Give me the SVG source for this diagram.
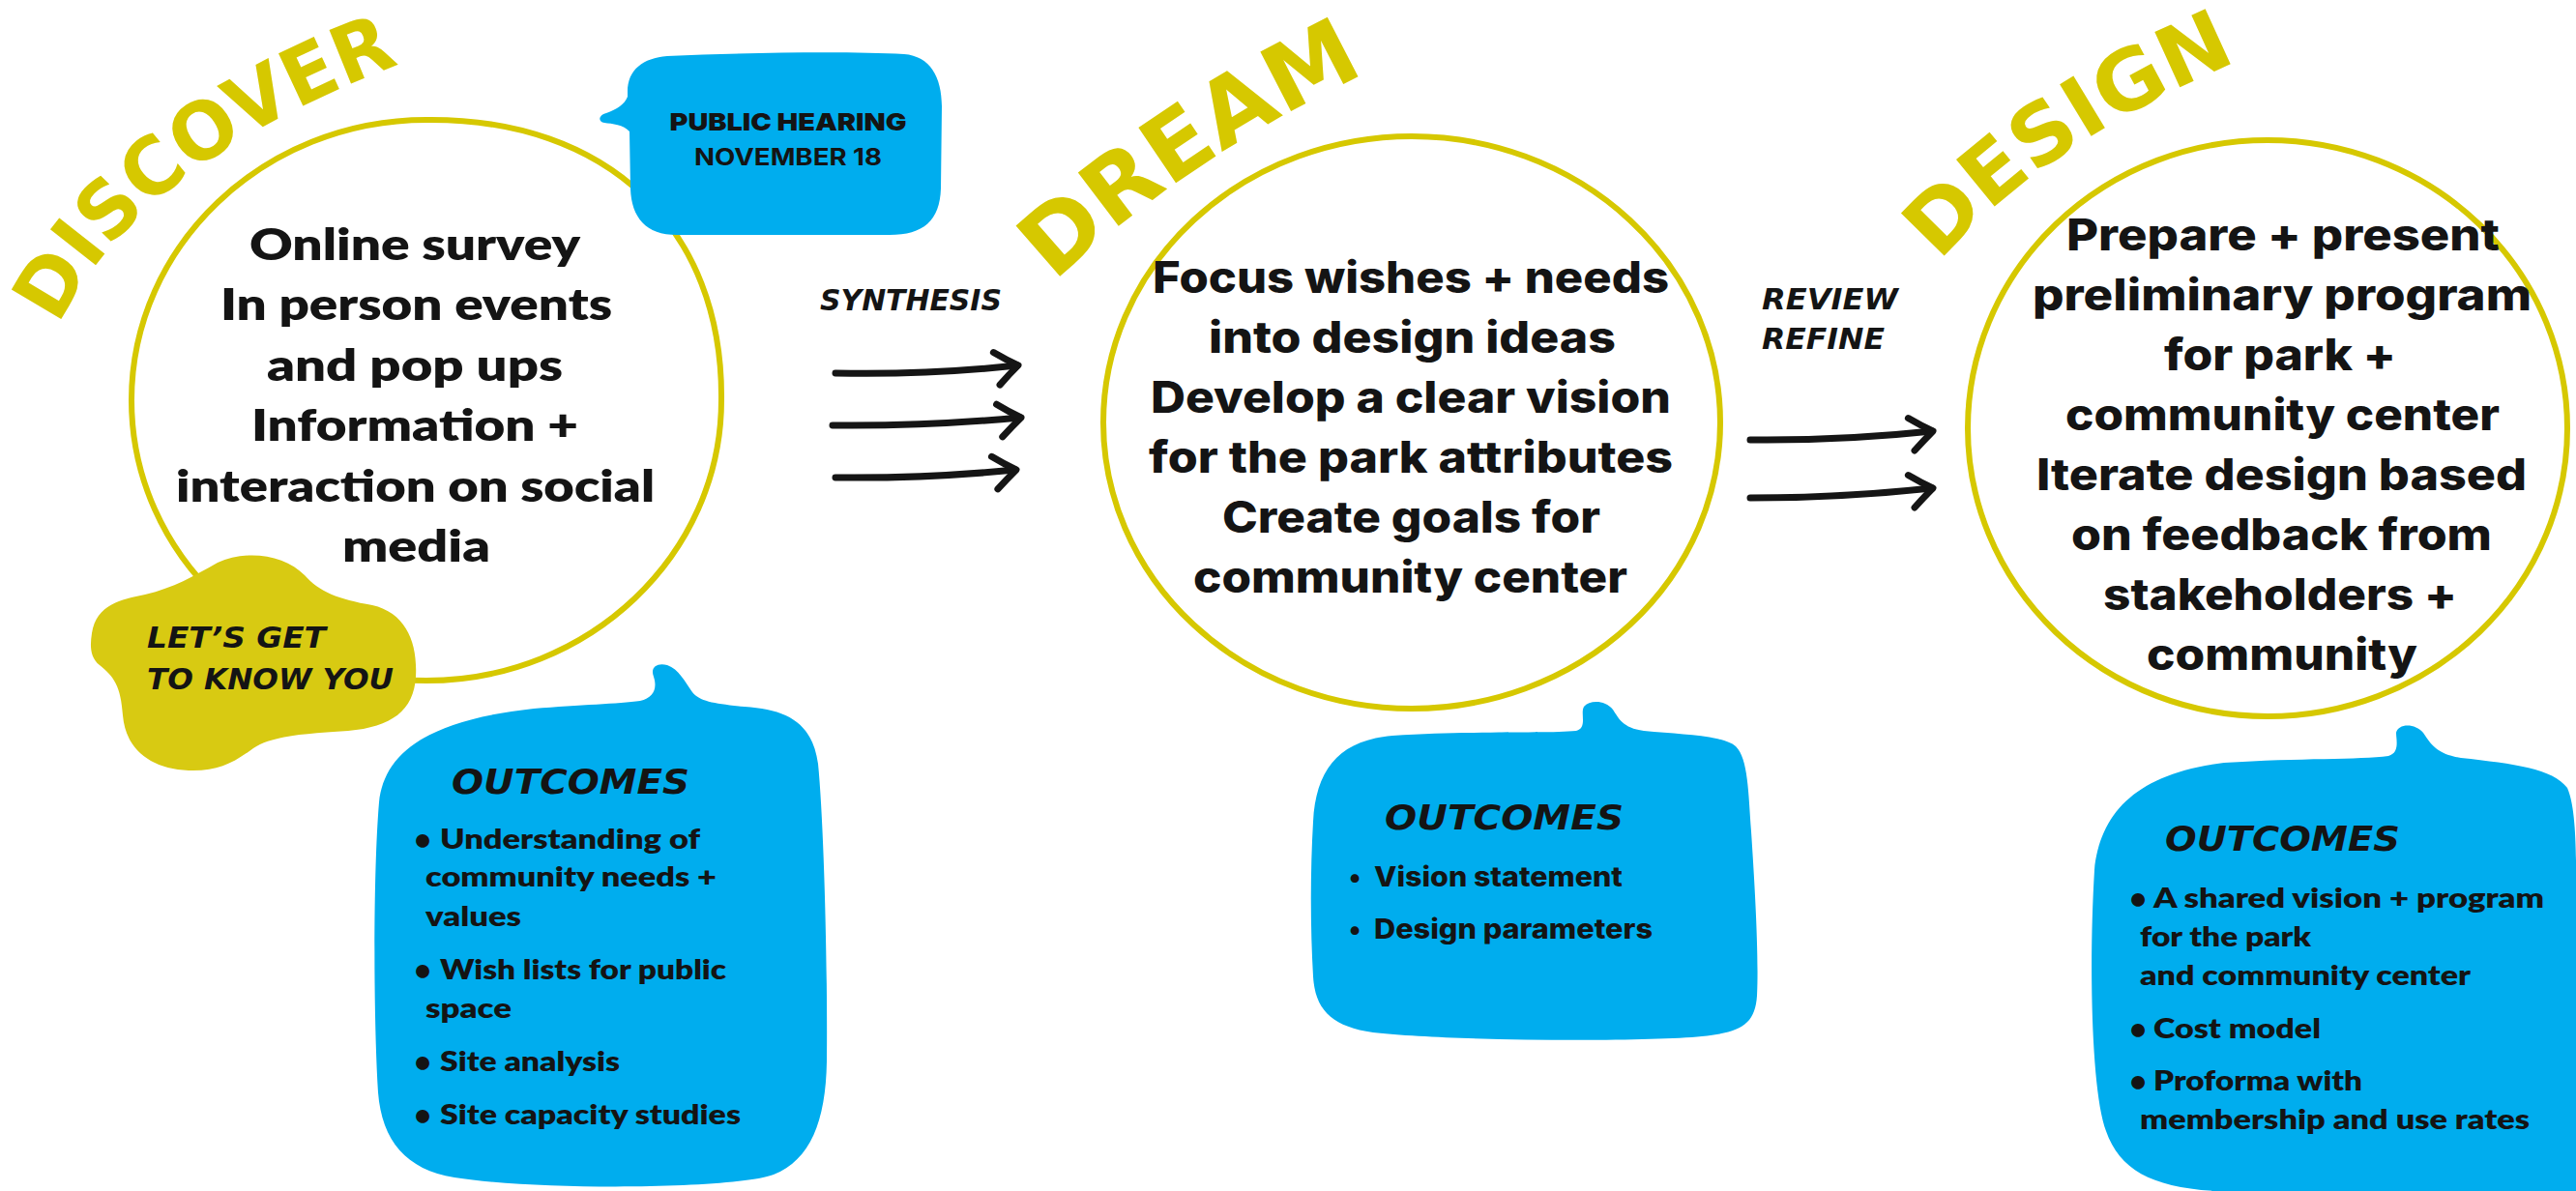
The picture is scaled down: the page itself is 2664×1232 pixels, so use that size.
<svg xmlns="http://www.w3.org/2000/svg" width="2664" height="1232" viewBox="0 0 2664 1232">
  <style>
    .ring { fill: none; stroke: #d6c800; stroke-width: 6; }
    .phase { font-family: "DejaVu Sans", sans-serif; font-weight: bold; fill: #d6c800; }
    .hand { font-family: "DejaVu Sans", sans-serif; font-weight: bold; font-style: oblique; fill: #141414; }
    .body-a { font-family: "Lato", "Liberation Sans", sans-serif; font-weight: 800; font-size: 45px; fill: #141414; }
    .body-b { font-family: "Inter", "Liberation Sans", sans-serif; font-weight: 800; font-size: 45px; fill: #141414; }
    .list { font-family: "Lato", "Liberation Sans", sans-serif; font-weight: 800; font-size: 28px; fill: #141414; }
    .list-b { font-family: "Inter", "Liberation Sans", sans-serif; font-weight: 800; font-size: 28px; fill: #141414; }
    .bubble { fill: #00adee; }
    .blob { fill: #d8ca12; }
    .arrow { fill: none; stroke: #151515; stroke-width: 7; stroke-linecap: round; }
  </style>
  <defs>
    <marker id="chev" markerUnits="userSpaceOnUse" markerWidth="60" markerHeight="60" refX="0" refY="0" orient="auto" overflow="visible">
      <path d="M -23,-16 Q -11,-7 1,0 Q -9,8 -20,18" fill="none" stroke="#151515" stroke-width="7" stroke-linecap="round" stroke-linejoin="round"/>
    </marker>
    <path id="arc-discover" d="M 61,337 Q 140,170 412,67"/>
    <path id="arc-dream" d="M 1090,292 Q 1225,165 1412,76"/>
    <path id="arc-design" d="M 2006,271 Q 2110,150 2313,64"/>
  </defs>

  <rect width="2664" height="1232" fill="#ffffff"/>

  <!-- Phase 1: Discover -->
  <g id="discover">
    <path class="ring" d="M 441,124 C 628,122 748,236 746,414 C 746,574 609,704 441,704 C 273,704 136,574 136,414 C 136,254 273,124 441,124 Z"/>
    <text class="phase" font-size="82"><textPath href="#arc-discover" textLength="455" lengthAdjust="spacingAndGlyphs">DISCOVER</textPath></text>
    <text class="body-a" x="258" y="269" textLength="342" lengthAdjust="spacingAndGlyphs">Online survey</text>
    <text class="body-a" x="228" y="331" textLength="405" lengthAdjust="spacingAndGlyphs">In person events</text>
    <text class="body-a" x="276" y="394" textLength="306" lengthAdjust="spacingAndGlyphs">and pop ups</text>
    <text class="body-a" x="260" y="456" textLength="338" lengthAdjust="spacingAndGlyphs">Information +</text>
    <text class="body-a" x="182" y="519" textLength="495" lengthAdjust="spacingAndGlyphs">interaction on social</text>
    <text class="body-a" x="354" y="581" textLength="153" lengthAdjust="spacingAndGlyphs">media</text>
  </g>

  <!-- Speech bubble: public hearing date -->
  <g id="public-hearing">
    <path class="bubble" d="M 690,58 C 780,54 880,53 935,56 C 962,58 974,80 974,110 L 973,195 C 972,228 955,243 920,243 L 700,243 C 668,243 653,225 652,195 L 651,136 C 645,129 633,128 625,127 C 618,126 619,119 627,117 C 638,113 646,108 649,100 L 649,95 C 649,72 665,60 690,58 Z"/>
    <text x="815" y="135" text-anchor="middle" font-family="Inter, 'Liberation Sans', sans-serif" font-weight="900" font-size="25" fill="#141414" textLength="245" lengthAdjust="spacingAndGlyphs">PUBLIC HEARING</text>
    <text x="815" y="171" text-anchor="middle" font-family="Inter, 'Liberation Sans', sans-serif" font-weight="700" font-size="24" fill="#141414" textLength="194" lengthAdjust="spacingAndGlyphs">NOVEMBER 18</text>
  </g>

  <!-- Yellow blob tag -->
  <g id="lets-get-to-know-you">
    <path class="blob" d="M 95,655 C 100,625 125,620 150,615 C 180,608 200,596 225,582 C 255,568 295,574 315,595 C 330,612 350,620 385,626 C 420,634 432,665 430,700 C 428,735 405,752 360,756 C 310,759 280,762 262,774 C 240,790 225,798 195,797 C 155,795 130,775 127,740 C 125,710 118,700 103,688 C 93,680 93,668 95,655 Z"/>
    <text class="hand" x="152" y="670" font-size="31" textLength="185" lengthAdjust="spacingAndGlyphs">LET’S GET</text>
    <text class="hand" x="152" y="713" font-size="31" textLength="255" lengthAdjust="spacingAndGlyphs">TO KNOW YOU</text>
  </g>

  <!-- Discover outcomes -->
  <g id="outcomes-discover">
    <path class="bubble" d="M 552,733 C 600,729 640,728 662,725 C 676,722 680,712 676,700 C 672,690 680,685 690,688 C 702,692 708,705 716,716 C 724,726 740,728 770,731 C 815,734 840,748 846,790 C 852,850 856,1000 855,1098 C 854,1160 838,1200 800,1215 C 760,1230 560,1232 470,1218 C 420,1210 395,1180 391,1130 C 386,1050 386,900 392,830 C 397,780 440,745 552,733 Z"/>
    <text class="hand" x="467" y="821" font-size="36" textLength="246" lengthAdjust="spacingAndGlyphs">OUTCOMES</text>
    <text class="list" x="429" y="878">•</text>
    <text class="list" x="455" y="878" textLength="269" lengthAdjust="spacingAndGlyphs">Understanding of</text>
    <text class="list" x="440" y="917" textLength="301" lengthAdjust="spacingAndGlyphs">community needs +</text>
    <text class="list" x="440" y="958" textLength="99" lengthAdjust="spacingAndGlyphs">values</text>
    <text class="list" x="429" y="1013">•</text>
    <text class="list" x="455" y="1013" textLength="296" lengthAdjust="spacingAndGlyphs">Wish lists for public</text>
    <text class="list" x="440" y="1053" textLength="89" lengthAdjust="spacingAndGlyphs">space</text>
    <text class="list" x="429" y="1108">•</text>
    <text class="list" x="455" y="1108" textLength="186" lengthAdjust="spacingAndGlyphs">Site analysis</text>
    <text class="list" x="429" y="1163">•</text>
    <text class="list" x="455" y="1163" textLength="311" lengthAdjust="spacingAndGlyphs">Site capacity studies</text>
  </g>

  <!-- Phase 2: Dream -->
  <g id="dream">
    <ellipse class="ring" cx="1460" cy="437" rx="319" ry="296"/>
    <text class="phase" font-size="95"><textPath href="#arc-dream" textLength="390" lengthAdjust="spacingAndGlyphs">DREAM</textPath></text>
    <text class="body-b" x="1192" y="303" textLength="534" lengthAdjust="spacingAndGlyphs">Focus wishes + needs</text>
    <text class="body-b" x="1250" y="365" textLength="421" lengthAdjust="spacingAndGlyphs">into design ideas</text>
    <text class="body-b" x="1190" y="427" textLength="538" lengthAdjust="spacingAndGlyphs">Develop a clear vision</text>
    <text class="body-b" x="1188" y="489" textLength="542" lengthAdjust="spacingAndGlyphs">for the park attributes</text>
    <text class="body-b" x="1264" y="551" textLength="391" lengthAdjust="spacingAndGlyphs">Create goals for</text>
    <text class="body-b" x="1234" y="613" textLength="449" lengthAdjust="spacingAndGlyphs">community center</text>
  </g>

  <!-- Dream outcomes -->
  <g id="outcomes-dream">
    <path class="bubble" d="M 1520,758 C 1570,757 1610,758 1630,756 C 1642,753 1634,738 1638,731 C 1644,724 1660,724 1668,734 C 1674,743 1678,753 1700,756 C 1740,760 1780,760 1795,772 C 1808,785 1808,820 1811,860 C 1815,920 1819,990 1817,1030 C 1815,1060 1800,1068 1760,1072 C 1700,1078 1500,1077 1420,1068 C 1378,1062 1360,1045 1358,1010 C 1355,960 1355,900 1358,850 C 1361,795 1385,766 1440,761 C 1470,759 1500,758 1520,758 Z"/>
    <text class="hand" x="1432" y="858" font-size="36" textLength="247" lengthAdjust="spacingAndGlyphs">OUTCOMES</text>
    <text class="list-b" x="1395" y="917">•</text>
    <text class="list-b" x="1421" y="917" textLength="257" lengthAdjust="spacingAndGlyphs">Vision statement</text>
    <text class="list-b" x="1395" y="971">•</text>
    <text class="list-b" x="1421" y="971" textLength="288" lengthAdjust="spacingAndGlyphs">Design parameters</text>
  </g>

  <!-- Phase 3: Design -->
  <g id="design">
    <ellipse class="ring" cx="2345" cy="443" rx="310" ry="298"/>
    <text class="phase" font-size="86"><textPath href="#arc-design" textLength="375" lengthAdjust="spacingAndGlyphs">DESIGN</textPath></text>
    <text class="body-b" x="2137" y="259" textLength="448" lengthAdjust="spacingAndGlyphs">Prepare + present</text>
    <text class="body-b" x="2102" y="321" textLength="516" lengthAdjust="spacingAndGlyphs">preliminary program</text>
    <text class="body-b" x="2238" y="383" textLength="240" lengthAdjust="spacingAndGlyphs">for park +</text>
    <text class="body-b" x="2136" y="445" textLength="449" lengthAdjust="spacingAndGlyphs">community center</text>
    <text class="body-b" x="2106" y="507" textLength="507" lengthAdjust="spacingAndGlyphs">Iterate design based</text>
    <text class="body-b" x="2142" y="569" textLength="435" lengthAdjust="spacingAndGlyphs">on feedback from</text>
    <text class="body-b" x="2175" y="631" textLength="366" lengthAdjust="spacingAndGlyphs">stakeholders +</text>
    <text class="body-b" x="2220" y="693" textLength="280" lengthAdjust="spacingAndGlyphs">community</text>
  </g>

  <!-- Design outcomes -->
  <g id="outcomes-design">
    <path class="bubble" d="M 2300,789 C 2380,784 2440,786 2470,782 C 2482,779 2478,765 2478,758 C 2480,748 2498,748 2506,758 C 2514,770 2520,780 2545,784 C 2600,790 2640,795 2655,815 C 2666,840 2664,900 2664,960 L 2664,1232 L 2290,1232 C 2225,1228 2192,1210 2178,1170 C 2163,1130 2160,1000 2166,900 C 2172,840 2210,800 2300,789 Z"/>
    <text class="hand" x="2239" y="880" font-size="36" textLength="243" lengthAdjust="spacingAndGlyphs">OUTCOMES</text>
    <text class="list" x="2203" y="939">•</text>
    <text class="list" x="2227" y="939" textLength="404" lengthAdjust="spacingAndGlyphs">A shared vision + program</text>
    <text class="list" x="2213" y="979" textLength="177" lengthAdjust="spacingAndGlyphs">for the park</text>
    <text class="list" x="2213" y="1019" textLength="342" lengthAdjust="spacingAndGlyphs">and community center</text>
    <text class="list" x="2203" y="1074">•</text>
    <text class="list" x="2227" y="1074" textLength="173" lengthAdjust="spacingAndGlyphs">Cost model</text>
    <text class="list" x="2203" y="1128">•</text>
    <text class="list" x="2227" y="1128" textLength="216" lengthAdjust="spacingAndGlyphs">Proforma with</text>
    <text class="list" x="2213" y="1168" textLength="403" lengthAdjust="spacingAndGlyphs">membership and use rates</text>
  </g>

  <!-- Arrows between phases -->
  <g id="connectors">
    <text class="hand" x="848" y="321" font-size="30" textLength="188" lengthAdjust="spacingAndGlyphs">SYNTHESIS</text>
    <path class="arrow" marker-end="url(#chev)" d="M 864,386 Q 960,388 1052,378"/>
    <path class="arrow" marker-end="url(#chev)" d="M 861,440 Q 960,441 1055,432"/>
    <path class="arrow" marker-end="url(#chev)" d="M 864,494 Q 960,495 1050,486"/>
    <text class="hand" x="1822" y="320" font-size="30" textLength="141" lengthAdjust="spacingAndGlyphs">REVIEW</text>
    <text class="hand" x="1822" y="361" font-size="30" textLength="127" lengthAdjust="spacingAndGlyphs">REFINE</text>
    <path class="arrow" marker-end="url(#chev)" d="M 1810,455 Q 1905,456 1998,446"/>
    <path class="arrow" marker-end="url(#chev)" d="M 1810,515 Q 1905,515 1998,505"/>
  </g>
</svg>
